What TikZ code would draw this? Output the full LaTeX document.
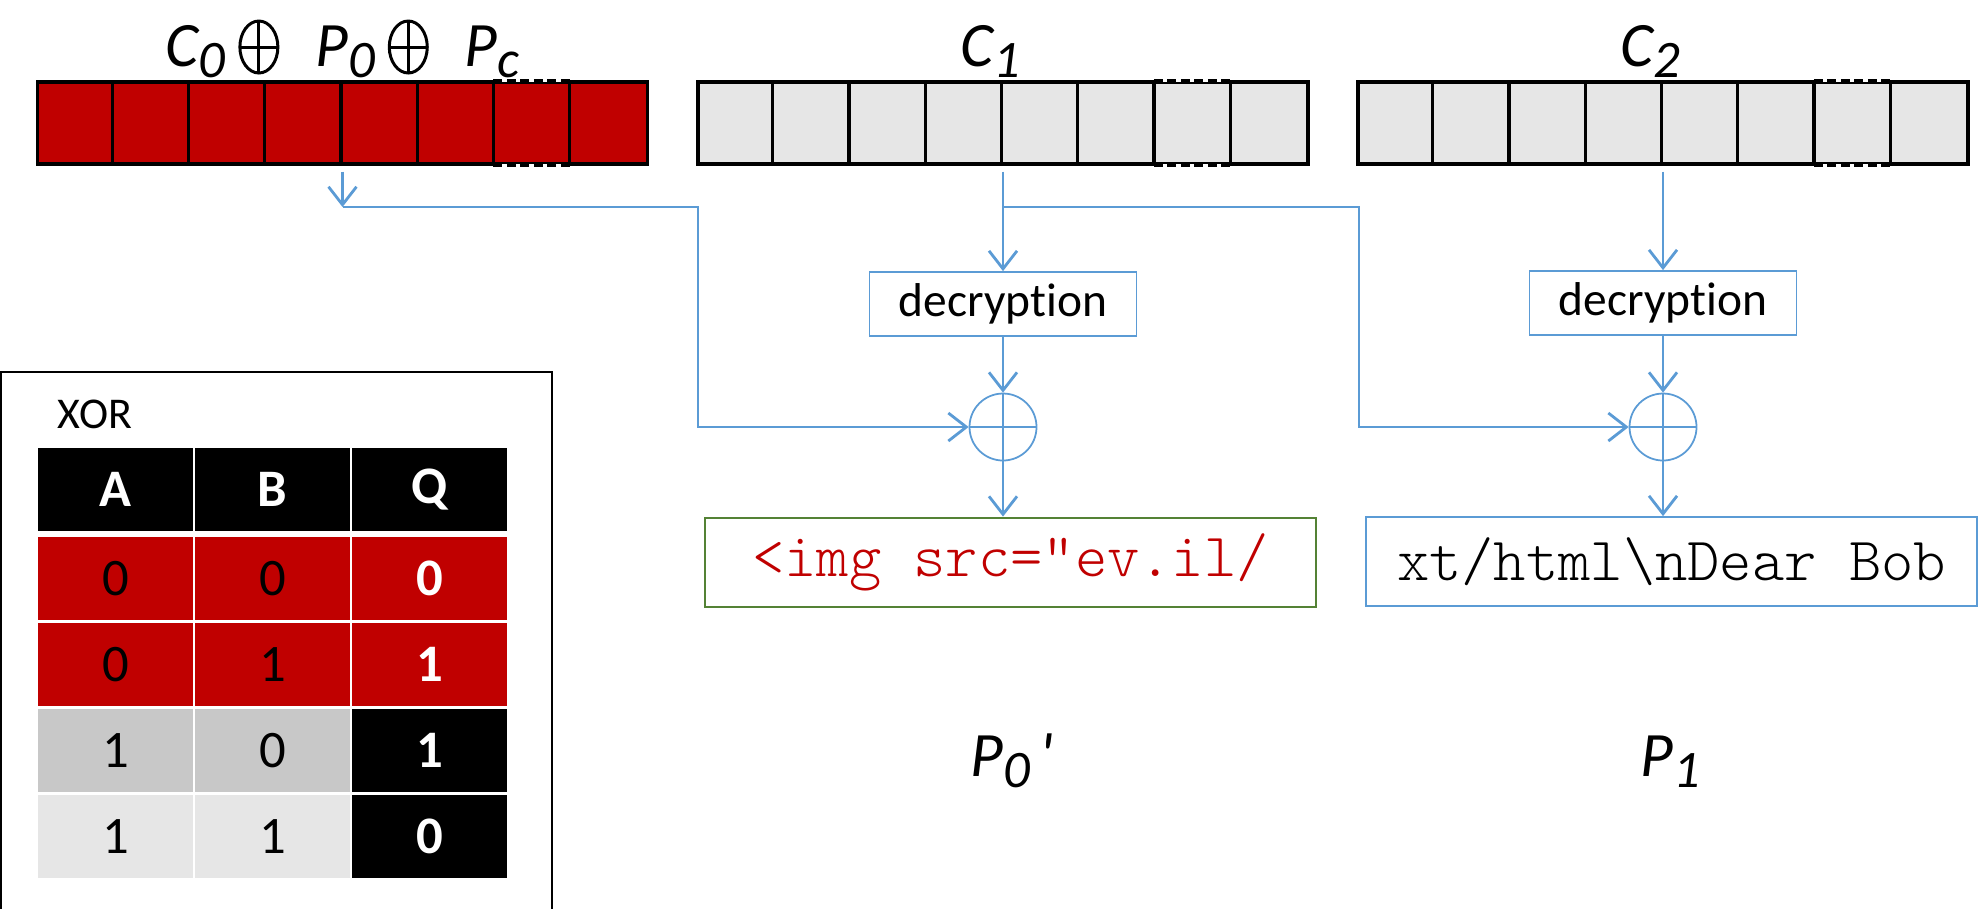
\documentclass[tikz,border=0pt]{standalone}
\usepackage{fontspec}
\setmainfont{Carlito}[Ligatures={TeX,NoCommon}]
\newfontfamily\codefont{lmmonolt10-regular.otf}
\usepackage{tikz}
\usetikzlibrary{arrows.meta}
\definecolor{xred}{HTML}{C00000}
\definecolor{xgray}{HTML}{E6E6E6}
\definecolor{xmid}{HTML}{C8C8C8}
\definecolor{xblue}{HTML}{5B9BD5}
\definecolor{xgreen}{HTML}{548235}
\newcommand{\sub}[1]{\raisebox{-1.1mm}{\fontsize{15}{15}\selectfont #1}}
\newcommand{\xo}{\tikz[baseline=0pt, line width=0.85pt]{\draw (0,1.9mm) ellipse (1.9mm and 2.6mm);
  \draw (0,-0.7mm) -- (0,4.5mm) (-1.9mm,1.9mm) -- (1.9mm,1.9mm);}}

\begin{document}
\begin{tikzpicture}[
  bar/.style={draw, line width=0.9pt, minimum width=61mm, minimum height=8.2mm, inner sep=0pt},
  lbl/.style={font=\fontsize{18}{18}\selectfont\itshape, anchor=base, inner sep=0pt},
  flow/.style={draw=xblue, line width=0.8pt},
  tip/.style={-{Straight Barb[length=1.8mm,width=2.8mm]}},
  decbox/.style={draw=xblue, line width=0.5pt, minimum width=26.7mm, minimum height=6.2mm, font=\fontsize{13.5}{13.5}\selectfont},
  xorop/.style={draw=xblue, line width=0.5pt, circle, minimum size=6.7mm, inner sep=0pt},
  outbox/.style={minimum width=61.1mm, minimum height=8.9mm, font=\codefont\fontsize{17.5}{17.5}\selectfont},
  cell/.style={minimum width=15.5mm, minimum height=8.3mm, inner sep=0pt, font=\fontsize{15}{15}\selectfont},
  hcell/.style={cell, fill=black, text=white, font=\fontsize{15}{15}\selectfont\bfseries},
]
  \useasboundingbox (0,0) rectangle (19.78,-9.08);

  \node (red) at (3.425,-1.23) [bar, fill=xred] {};
  \node (ca) at (10.03,-1.23) [bar, fill=xgray] {};
  \node (cb) at (16.63,-1.23) [bar, fill=xgray] {};
  \foreach \b in {red,ca,cb} {
    \foreach \i in {1,...,7}
      \draw[line width=0.9pt] ([xshift=\i*7.625mm]\b.north west) -- ([xshift=\i*7.625mm]\b.south west);
    \draw[white, line width=0.9pt, shorten <=0.45pt, shorten >=0.45pt]
      ([xshift=45.75mm]\b.north west) -- ([xshift=53.375mm]\b.north west)
      ([xshift=45.75mm]\b.south west) -- ([xshift=53.375mm]\b.south west);
    \draw[line width=0.9pt, dash pattern=on 0.9mm off 0.45mm]
      ([xshift=45.75mm]\b.north west) -- ([xshift=53.375mm]\b.north west)
      ([xshift=45.75mm]\b.south west) -- ([xshift=53.375mm]\b.south west);
  }
  \node (lred) at (3.425,-0.66) [lbl] {C\sub{0}\hspace{1.3mm}\xo\hspace{3.6mm}P\sub{0}\hspace{1.3mm}\xo\hspace{3.6mm}P\sub{c}};
  \node (lca) at (9.9,-0.66) [lbl] {C\sub{1}};
  \node (lcb) at (16.5,-0.66) [lbl] {C\sub{2}};

  \node (dec1) at (10.03,-3.04) [decbox] {decryption};
  \node (dec2) at (16.63,-3.03) [decbox] {decryption};
  \node (x1) at (10.03,-4.27) [xorop] {};
  \node (x2) at (16.63,-4.27) [xorop] {};
  \draw[xblue, line width=0.5pt] (x1.north) -- (x1.south) (x1.west) -- (x1.east);
  \draw[xblue, line width=0.5pt] (x2.north) -- (x2.south) (x2.west) -- (x2.east);
  \node (out1) at (10.105,-5.625) [outbox, draw=xgreen, line width=0.8pt, text=xred] {<img src=”ev.il/};
  \node (out2) at (16.715,-5.615) [outbox, draw=xblue, line width=0.5pt] {xt/html\textbackslash nDear Bob};
  \node (p0) at (10.12,-7.76) [lbl] {P\sub{0}\hspace{1mm}\textquotesingle};
  \node (p1) at (16.7,-7.76) [lbl] {P\sub{1}};

  \coordinate (rtap) at (3.425,-2.07);
  \coordinate (atap) at (10.03,-2.07);
  \coordinate (k1) at (6.98,-4.27);
  \coordinate (k2) at (13.59,-4.27);
  \draw[flow, tip, shorten <=0.6mm] (red.south) -- (rtap);
  \draw[flow, tip] (rtap) -| (k1) -- (x1.west);
  \draw[flow, tip, shorten <=0.6mm] (ca.south) -- (dec1.north);
  \draw[flow, tip] (atap) -| (k2) -- (x2.west);
  \draw[flow, tip] (dec1.south) -- (x1.north);
  \draw[flow, tip] (x1.south) -- (x1.south |- out1.north);
  \draw[flow, tip, shorten <=0.6mm] (cb.south) -- (dec2.north);
  \draw[flow, tip] (dec2.south) -- (x2.north);
  \draw[flow, tip] (x2.south) -- (x2.south |- out2.north);

  \draw[line width=0.8pt] (0.01,-3.72) rectangle (5.52,-9.5);
  \node (xt) at (0.57,-4.28) [anchor=base west, inner sep=0pt, font=\fontsize{12.5}{12.5}\selectfont] {XOR};
  \node (ha) at (1.155,-4.89) [hcell] {A};
  \node (hb) at (2.725,-4.89) [hcell] {B};
  \node (hq) at (4.295,-4.89) [hcell] {Q};
  \foreach \n/\y/\a/\b/\q/\fab/\fq in {1/5.785/0/0/0/xred/xred, 2/6.645/0/1/1/xred/xred,
      3/7.505/1/0/1/xmid/black, 4/8.365/1/1/0/xgray/black} {
    \node (a\n) at (1.155,-\y) [cell, fill=\fab] {\a};
    \node (b\n) at (2.725,-\y) [cell, fill=\fab] {\b};
    \node (q\n) at (4.295,-\y) [hcell, fill=\fq] {\q};
  }
\end{tikzpicture}
\end{document}
